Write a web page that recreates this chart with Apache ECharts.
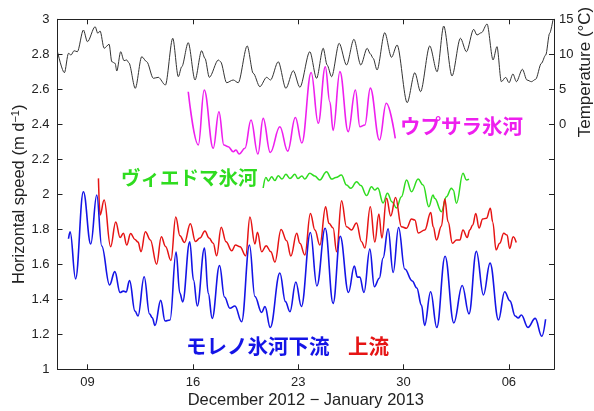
<!DOCTYPE html>
<html><head><meta charset="utf-8">
<script src="https://cdn.jsdelivr.net/npm/echarts@6/dist/echarts.min.js"></script>
<style>html,body{margin:0;padding:0;background:#fff}#c{width:594px;height:411px}</style>
</head><body><div id="c"></div>
<script>
// x values: day number counted from 1 Dec 2012 (Jan 6 = 37)
const tickDays = [9, 16, 23, 30, 37];
const tickLabels = ['09', '16', '23', '30', '06'];

// Air temperature (°C)
const tempDays = [7.0,7.46,7.73,7.90,8.10,8.32,8.72,8.99,9.50,9.68,
  9.83,10.10,10.43,10.61,10.83,10.94,11.20,11.42,11.60,11.74,
  12.17,12.60,12.93,13.37,13.70,14.17,14.66,15.03,15.26,15.69,
  16.14,16.58,16.80,17.09,17.69,17.84,18.24,18.68,19.01,19.61,
  20.01,20.45,20.90,21.16,21.67,22.18,22.67,23.11,23.77,24.22,
  24.66,24.92,25.22,25.72,26.21,26.70,27.16,27.58,27.80,27.98,
  28.24,28.75,29.20,29.57,30.24,30.75,31.13,31.74,32.23,32.67,
  33.22,33.78,34.18,34.66,34.88,35.18,35.55,35.95,36.21,36.50,
  36.79,37.01,37.27,37.50,37.90,38.20,38.50,38.78,39.16,39.45,
  39.71,39.93];
const tempValues = [10.37,7.37,10.14,9.9,10.51,10.37,13.47,11.8,13.94,13.0,
  13.33,10.86,11.43,8.94,8.71,7.61,10.37,9.09,9.19,8.8,
  5.14,9.66,8.94,6.57,6.71,5.61,12.29,6.8,8.23,11.66,
  6.33,10.51,9.43,6.71,9.19,8.94,5.94,6.33,5.94,11.19,
  7.29,5.37,6.71,6.33,8.94,5.14,7.66,5.29,10.37,6.57,
  10.86,8.47,6.8,11.57,8.47,12.14,8.47,10.86,10.04,9.43,
  7.76,13.09,9.57,11.33,3.09,7.37,4.66,11.19,7.51,14.04,
  6.9,12.29,10.37,13.57,12.76,13.09,14.33,9.19,11.09,6.09,
  6.71,5.94,7.19,6.09,7.86,6.33,6.09,6.43,8.71,9.9,
  13.0,14.9];

// Uppsala glacier speed (m/d)
const uppsalaDays = [15.69,16.36,16.75,17.35,17.73,18.06,18.35,18.68,18.86,19.08,
  19.46,19.86,20.32,20.67,21.14,21.78,22.30,22.81,23.24,23.86,
  24.33,24.80,25.10,25.32,25.77,26.32,26.80,27.10,27.43,27.79,
  28.40,28.85,29.45];
const uppsalaSpeed = [2.586,2.282,2.596,2.263,2.472,2.282,2.272,2.243,2.253,2.230,
  2.263,2.425,2.230,2.434,2.239,2.386,2.247,2.439,2.293,2.696,
  2.406,2.729,2.529,2.365,2.701,2.358,2.596,2.386,2.396,2.607,
  2.310,2.520,2.320];

// Viedma glacier speed (m/d)
const viedmaDays = [20.67,20.85,21.02,21.23,21.45,21.67,21.92,22.18,22.45,22.78,
  22.98,23.24,23.44,23.77,24.10,24.43,24.88,25.22,25.50,25.87,
  26.21,26.50,26.88,27.16,27.54,27.87,28.09,28.29,28.64,28.93,
  29.24,29.53,29.86,30.20,30.53,30.97,31.30,31.68,31.96,32.07,
  32.52,32.85,33.18,33.30,33.52,33.95,34.18,34.35];
const viedmaSpeed = [2.036,2.096,2.076,2.101,2.079,2.106,2.087,2.114,2.090,2.114,
  2.090,2.105,2.087,2.12,2.105,2.082,2.129,2.087,2.096,2.110,
  2.053,2.034,2.072,2.050,1.993,2.043,2.025,2.036,1.950,2.006,
  1.956,1.922,1.986,2.082,2.015,2.087,2.053,1.929,1.996,1.977,
  1.901,1.986,2.034,2.025,1.949,2.12,2.082,2.087];

// Perito Moreno glacier, upstream (m/d)
const upstreamDays = [9.72,9.83,10.10,10.53,10.87,11.16,11.38,11.60,11.86,12.15,
  12.35,12.55,12.84,13.17,13.59,13.90,14.18,14.54,14.86,15.14,
  15.44,15.83,16.17,16.47,16.80,17.07,17.35,17.58,17.88,18.20,
  18.58,18.83,19.13,19.51,19.79,20.12,20.29,20.57,20.87,21.18,
  21.45,21.86,22.23,22.51,22.90,23.11,23.44,23.81,24.11,24.44,
  24.82,25.04,25.32,25.55,25.88,26.21,26.54,26.87,27.21,27.43,
  27.79,28.09,28.36,28.56,28.87,29.15,29.47,29.86,30.20,30.53,
  30.75,30.98,31.41,31.81,31.97,32.19,32.52,32.74,32.96,33.25,
  33.52,33.74,33.95,34.23,34.40,34.60,34.80,35.02,35.26,35.51,
  35.77,35.93,36.15,36.39,36.66,36.88,37.05,37.29,37.49];
const upstreamSpeed = [2.091,1.882,1.967,1.701,1.842,1.753,1.777,1.710,1.776,1.742,
  1.727,1.672,1.786,1.739,1.601,1.758,1.702,1.622,1.870,1.763,
  1.725,1.832,1.730,1.750,1.790,1.750,1.720,1.649,1.812,1.729,
  1.677,1.710,1.701,1.649,1.870,1.716,1.783,1.672,1.706,1.672,
  1.613,1.799,1.734,1.647,1.777,1.720,1.653,1.891,1.796,1.710,
  1.929,1.834,1.807,1.672,1.963,1.815,1.796,1.836,1.729,1.693,
  1.929,1.727,1.887,1.750,1.977,1.876,1.982,1.815,1.806,1.859,
  1.853,1.779,1.796,1.896,1.815,1.739,1.819,1.973,1.843,1.720,
  1.739,1.739,1.796,1.753,1.796,1.825,1.891,1.807,1.859,1.863,
  1.920,1.841,1.682,1.720,1.777,1.767,1.691,1.758,1.725];

// Perito Moreno glacier, downstream (m/d)
const downstreamDays = [7.73,7.84,8.20,8.72,9.21,9.61,9.94,10.46,10.81,11.16,
  11.38,11.56,11.79,12.15,12.35,12.76,13.12,13.30,13.48,13.86,
  14.15,14.48,14.88,15.13,15.32,15.79,16.04,16.29,16.77,17.02,
  17.28,17.77,18.10,18.46,18.79,19.24,19.76,20.12,20.57,20.79,
  21.14,21.78,22.15,22.45,22.84,23.21,23.81,24.24,24.79,25.32,
  25.79,26.34,26.73,26.93,27.09,27.37,27.76,28.06,28.39,28.64,
  28.97,29.31,29.67,30.08,30.58,30.88,31.19,31.40,31.80,32.21,
  32.76,33.34,33.90,34.35,34.84,35.31,35.75,36.31,36.72,37.07,
  37.42,37.62,37.83,38.27,38.75,39.19,39.44];
const downstreamSpeed = [1.746,1.786,1.517,2.015,1.716,1.996,1.705,1.482,1.558,1.439,
  1.447,1.442,1.507,1.333,1.305,1.529,1.316,1.295,1.250,1.394,
  1.276,1.282,1.670,1.436,1.385,1.729,1.510,1.362,1.693,1.434,
  1.291,1.593,1.413,1.349,1.362,1.272,1.710,1.416,1.325,1.358,
  1.239,1.550,1.387,1.329,1.499,1.359,1.782,1.476,1.806,1.377,
  1.760,1.439,1.590,1.527,1.527,1.439,1.687,1.472,1.520,1.636,
  1.803,1.553,1.810,1.573,1.505,1.465,1.367,1.251,1.443,1.239,
  1.646,1.265,1.479,1.317,1.674,1.425,1.607,1.282,1.443,1.391,
  1.305,1.293,1.310,1.239,1.291,1.189,1.286];

const zip = (a, b) => a.map((x, i) => [x, b[i]]);
const FONT = '"Liberation Sans", Arial, Helvetica, sans-serif';
const JP = '"Noto Sans CJK JP", sans-serif';
const AX = '#222';

const lineSeries = (name, days, vals, color, width, yIdx, z, smooth) => ({
  name, type: 'line', data: zip(days, vals), xAxisIndex: 0, yAxisIndex: yIdx,
  showSymbol: false, symbol: 'none', smooth: smooth, smoothMonotone: 'x',
  lineStyle: { color, width }, z, animation: false, silent: true
});

const chart = echarts.init(document.getElementById('c'), null, { renderer: 'canvas' });
const xAxisBase = {
  type: 'value', min: 7, max: 40,
  axisLine: { show: true, onZero: false, lineStyle: { color: AX, width: 1 } },
  axisTick: { show: true, inside: true, length: 5, customValues: tickDays, lineStyle: { color: AX } },
  splitLine: { show: false }
};
chart.setOption({
  animation: false,
  backgroundColor: '#fff',
  grid: { left: 57.5, right: 40, top: 19.3, bottom: 41.7, containLabel: false, outerBoundsMode: 'none' },
  xAxis: [
    Object.assign({}, xAxisBase, {
      position: 'bottom',
      axisLabel: { customValues: tickDays, formatter: v => tickLabels[tickDays.indexOf(v)],
        color: AX, fontSize: 13, fontFamily: FONT, margin: 7 },
      name: 'December 2012 \u2212 January 2013', nameLocation: 'middle', nameGap: 23,
      nameMoveOverlap: false,
      nameTextStyle: { color: AX, fontSize: 16.5, fontFamily: FONT }
    }),
    Object.assign({}, xAxisBase, { position: 'top', axisLabel: { show: false } })
  ],
  yAxis: [
    {
      type: 'value', min: 1, max: 3, interval: 0.2, position: 'left',
      axisLine: { show: true, onZero: false, lineStyle: { color: AX, width: 1 } },
      axisTick: { show: true, inside: true, length: 5, lineStyle: { color: AX } },
      axisLabel: { color: AX, fontSize: 13, fontFamily: FONT, margin: 8,
        formatter: v => String(+v.toFixed(1)) },
      splitLine: { show: false },
      name: 'Horizontal speed (m d{sup|\u22121})', nameLocation: 'middle', nameGap: 30,
      nameMoveOverlap: false,
      nameTextStyle: { color: AX, fontSize: 16.5, fontFamily: FONT,
        rich: { sup: { fontSize: 11, fontFamily: FONT, color: AX, verticalAlign: 'top', padding: [0, 0, 6, 0] } } }
    },
    {
      type: 'value', min: -35, max: 15, interval: 5, position: 'right',
      axisLine: { show: true, onZero: false, lineStyle: { color: AX, width: 1 } },
      axisTick: { show: true, inside: true, length: 5, lineStyle: { color: AX } },
      axisLabel: { color: AX, fontSize: 13, fontFamily: FONT, margin: 5,
        formatter: v => (v >= 0 ? String(v) : '') },
      splitLine: { show: false }
    }
  ],
  graphic: [
    { type: 'text', x: 400, y: 126, style: { text: 'ウプサラ氷河', fill: '#ee1fee', font: 'bold 20.5px ' + JP, align: 'left', verticalAlign: 'middle' } },
    { type: 'text', x: 121, y: 177.5, style: { text: 'ヴィエドマ氷河', fill: '#2fdc1f', font: 'bold 19.5px ' + JP, align: 'left', verticalAlign: 'middle' } },
    { type: 'text', x: 186, y: 346, style: { text: 'モレノ氷河下流', fill: '#1414e6', font: 'bold 20.5px ' + JP, align: 'left', verticalAlign: 'middle' } },
    { type: 'text', x: 348, y: 346, style: { text: '上流', fill: '#e61414', font: 'bold 20.5px ' + JP, align: 'left', verticalAlign: 'middle' } },
    { type: 'text', x: 585, y: 72, rotation: Math.PI / 2, style: { text: 'Temperature (\u00b0C)', fill: AX, font: '17px ' + FONT, align: 'center', verticalAlign: 'middle' } }
  ],
  series: [
    lineSeries('Temperature', tempDays, tempValues, '#333', 1, 1, 2, 0.3),
    lineSeries('Viedma', viedmaDays, viedmaSpeed, '#2fdc1f', 1.5, 0, 3, 0.4),
    lineSeries('Uppsala', uppsalaDays, uppsalaSpeed, '#ee1fee', 1.6, 0, 4, 0.4),
    lineSeries('Moreno upstream', upstreamDays, upstreamSpeed, '#e61414', 1.5, 0, 5, 0.4),
    lineSeries('Moreno downstream', downstreamDays, downstreamSpeed, '#1414e6', 1.6, 0, 6, 0.4)
  ]
});
</script>
</body></html>
